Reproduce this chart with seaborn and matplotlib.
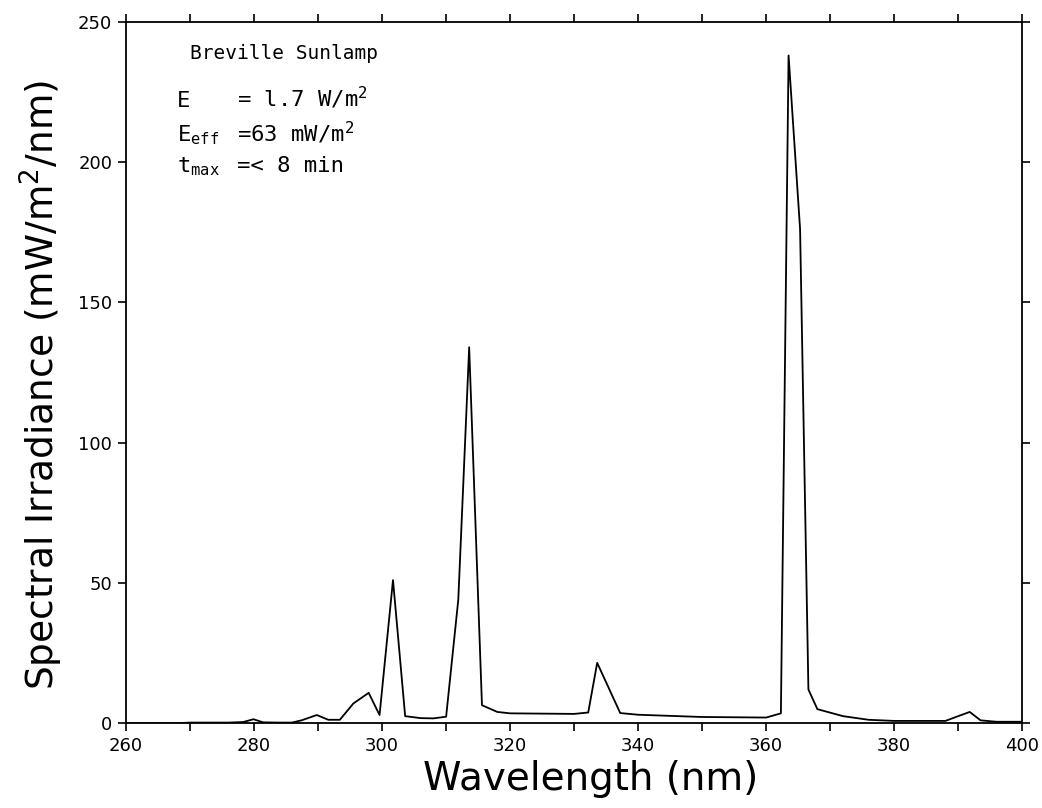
import numpy as np
import pandas as pd
import matplotlib
matplotlib.use("Agg")
import matplotlib.pyplot as plt
import seaborn as sns

# spectrum (nm, mW/m^2/nm)
wavelength = [260, 268, 270, 276, 278.3, 279.9, 281.4, 284, 285.9, 287.4, 289.8,
              291.6, 293.4, 295.5, 297.9, 299.6, 301.7, 303.6, 306, 308, 310,
              311.9, 313.6, 315.6, 318, 320, 330, 332.2, 333.6, 337.2, 340,
              350, 360, 362.3, 363.5, 365.3, 366.6, 368, 372, 376, 380, 388,
              390, 391.8, 393.5, 396, 400]
irradiance = [0, 0, 0.2, 0.2, 0.4, 1.4, 0.3, 0.2, 0.2, 1.0, 2.9,
              1.2, 1.2, 7.0, 10.8, 2.9, 51, 2.5, 1.8, 1.7, 2.3,
              44, 134, 6.4, 4.0, 3.5, 3.3, 3.8, 21.5, 3.6, 3.0,
              2.2, 2.0, 3.5, 238, 176, 12, 5, 2.5, 1.2, 0.8, 0.8,
              2.5, 4.0, 1.0, 0.5, 0.5]

# annotation block
lamp_name = "Breville Sunlamp"
ann_keys = ["E", r"E$_{eff}$", r"t$_{max}$"]
ann_vals = [r"= l.7 W/m$^2$", r"=63 mW/m$^2$", r"=< 8 min"]

df = pd.DataFrame({"wavelength": wavelength, "irradiance": irradiance})

sns.set_style("ticks")
plt.rcParams['font.family'] = ['DejaVu Sans']
plt.rcParams['mathtext.default'] = 'regular'
plt.rcParams['text.color'] = 'black'
plt.rcParams['axes.labelcolor'] = 'black'
plt.rcParams['xtick.color'] = 'black'
plt.rcParams['ytick.color'] = 'black'

fig = plt.figure(figsize=(10.42, 8.08), dpi=100)
ax = fig.add_axes([0.121, 0.105, 0.86, 0.868])

sns.lineplot(data=df, x="wavelength", y="irradiance", color="black",
             linewidth=1.3, ax=ax)

ax.set_xlim(260, 400)
ax.set_ylim(0, 250)
ax.set_xticks(np.arange(260, 401, 20))
ax.set_xticks(np.arange(260, 401, 10), minor=True)
ax.set_yticks(np.arange(0, 251, 50))
ax.tick_params(which="both", direction="out", top=True, right=True,
               labelsize=13, width=1.2, length=6, pad=4)
for s in ax.spines.values():
    s.set_linewidth(1.3)
    s.set_color("black")

ax.set_xlabel("Wavelength (nm)", fontsize=28)
ax.set_ylabel("Spectral Irradiance (mW/m$^2$/nm)", fontsize=27)
ax.xaxis.set_label_coords(0.518, -0.052)
ax.yaxis.set_label_coords(-0.068, 0.482)

mono = "DejaVu Sans Mono"
ax.text(0.0714, 0.947, lamp_name, transform=ax.transAxes, fontsize=14,
        family=mono, va="baseline")
ys = [0.879, 0.829, 0.786]
for key, val, y in zip(ann_keys, ann_vals, ys):
    ax.text(0.057, y, key, transform=ax.transAxes, fontsize=16, family=mono,
            va="baseline")
    ax.text(0.124, y, val, transform=ax.transAxes, fontsize=16, family=mono,
            va="baseline")

fig.savefig("out.png", dpi=100)
